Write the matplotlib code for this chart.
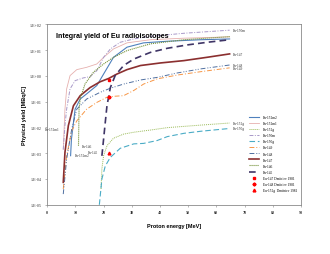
import numpy as np
import matplotlib
matplotlib.use('Agg')
from matplotlib import pyplot as plt

# proton energy [MeV] and yield [MBq/C]
e_152m2 = [8.3, 8.6, 9.9, 11.7, 14.0, 17.6, 20.0, 23.5, 28.3, 34.2, 42.6, 54.5, 64.7]
y_152m2 = [8e-4, 3.5e-3, 5.1e-2, 0.126, 0.2, 0.42, 1.17, 5.2, 12.9, 19.0, 21.9, 25.1, 26.9]

e_152m1 = [5.7, 6.3, 6.9, 8.1, 10.5, 14.0, 17.6, 20.0, 23.5, 28.3, 36.6, 48.5, 64.7]
y_152m1 = [1.4e-3, 5.1e-2, 0.31, 1.02, 1.74, 2.14, 2.88, 5.2, 11.0, 19.0, 25.1, 28.8, 32.4]

e_152g = [19.1, 19.4, 20.0, 21.2, 23.5, 27.1, 30.7, 36.6, 42.6, 54.5, 64.7]
y_152g = [4.1e-5, 2.5e-4, 7.9e-4, 1.95e-3, 3.8e-3, 5.5e-3, 6.5e-3, 7.9e-3, 9.8e-3, 1.23e-2, 1.48e-2]

e_150m = [5.7, 6.3, 6.9, 8.1, 9.9, 12.8, 15.2, 17.6, 20.0, 22.4, 25.9, 30.7, 36.6, 48.5, 64.7]
y_150m = [1.4e-3, 1.2e-2, 5.1e-2, 0.31, 0.65, 0.83, 0.93, 1.58, 5.2, 11.0, 20.0, 26.9, 33.9, 44.7, 58.9]

e_150g = [18.5, 19.4, 20.6, 22.4, 25.9, 30.7, 34.2, 39.0, 42.6, 48.5, 54.5, 64.7]
y_150g = [1e-5, 1e-4, 3.2e-4, 6.9e-4, 1.55e-3, 2.3e-3, 2.4e-3, 3.1e-3, 4.4e-3, 5.9e-3, 7.1e-3, 9.1e-3]

e_149 = [5.7, 6.9, 8.7, 10.5, 14.0, 17.6, 21.2, 24.1, 27.1, 30.7, 34.2, 39.0, 46.1, 54.5, 64.7]
y_149 = [4.1e-5, 7.9e-4, 7.4e-3, 1.8e-2, 5.1e-2, 9.3e-2, 0.148, 0.162, 0.17, 0.27, 0.48, 0.76, 1.07, 1.45, 2.04]

e_148 = [5.7, 6.9, 8.7, 10.5, 14.0, 18.8, 22.4, 27.1, 33.1, 39.0, 46.1, 54.5, 64.7]
y_148 = [2.6e-5, 5.9e-4, 8.7e-3, 5.1e-2, 0.126, 0.23, 0.33, 0.48, 0.69, 0.87, 1.29, 1.86, 2.63]

e_147 = [5.7, 6.3, 7.5, 9.3, 11.7, 15.2, 18.8, 21.8, 24.7, 28.3, 33.1, 40.2, 48.5, 56.8, 64.7]
y_147 = [7.4e-5, 1.07e-3, 1.17e-2, 6.9e-2, 0.17, 0.35, 0.59, 0.79, 1.17, 1.74, 2.51, 3.16, 3.89, 5.25, 7.08]

e_146 = [11.1, 11.3, 11.7, 13.4, 16.4, 20.0, 23.5, 28.3, 36.6, 48.5, 64.7]
y_146 = [1.95e-3, 5.1e-2, 0.126, 0.48, 1.38, 2.88, 5.2, 9.5, 17.4, 25.1, 33.1]

e_145 = [19.4, 20.0, 20.6, 21.2, 22.4, 24.1, 27.1, 30.7, 36.6, 42.6, 49.7, 56.8, 64.7]
y_145 = [7.9e-4, 3.5e-3, 1.58e-2, 6.9e-2, 0.35, 1.02, 2.51, 4.47, 8.1, 11.7, 15.8, 20.0, 25.1]

# literature points (Dmitriev 1981)
e_exp = [21.9, 21.9, 21.9]
y_exp = [0.69, 0.155, 1.0e-3]

x_ticks = [0, 10, 20, 30, 40, 50, 60, 70, 80, 90]
y_ticks = [1e-5, 1e-4, 1e-3, 1e-2, 1e-1, 1e0, 1e1, 1e2]
y_tick_labels = ['1.E-05', '1.E-04', '1.E-03', '1.E-02', '1.E-01', '1.E+00', '1.E+01', '1.E+02']

serif = ['Liberation Serif', 'DejaVu Serif']
sans = ['Liberation Sans Narrow', 'Liberation Sans', 'DejaVu Sans']

fig = plt.figure(figsize=(3.3, 2.55), dpi=100)
ax = fig.add_axes([0.143, 0.193, 0.769, 0.708])

series = [
    (e_152m2, y_152m2, 'Eu-152m2', '#4F81BD', '-', 0.8),
    (e_152m1, y_152m1, 'Eu-152m1', '#E6B0AE', '-', 0.6),
    (e_152g, y_152g, 'Eu-152g', '#9BBB59', (0, (1, 1)), 0.7),
    (e_150m, y_150m, 'Eu-150m', '#A898C8', (0, (4, 1.5, 1, 1.5)), 0.7),
    (e_150g, y_150g, 'Eu-150g', '#4BACC6', (0, (5, 2.5)), 0.8),
    (e_149, y_149, 'Eu-149', '#F79646', (0, (5, 2, 1, 2)), 0.7),
    (e_148, y_148, 'Eu-148', '#4F6FA0', (0, (5, 2, 1, 1.5, 1, 2)), 0.7),
    (e_147, y_147, 'Eu-147', '#8B2F2F', '-', 1.2),
    (e_146, y_146, 'Eu-146', '#77933C', (0, (1, 0.8)), 0.8),
    (e_145, y_145, 'Eu-145', '#3F3566', (0, (4, 2.5)), 1.2),
]

for e, y, name, color, ls, lw in series:
    ax.plot(e, y, color=color, linestyle=ls, linewidth=lw, label=name)

ax.plot(e_exp[0], y_exp[0], 's', color='red', markersize=2.0, linestyle='none', label='Eu-147 Dmitriev 1981')
ax.plot(e_exp[1], y_exp[1], 'P', color='red', markersize=2.0, linestyle='none', label='Eu-148 Dmitriev 1981')
ax.plot(e_exp[2], y_exp[2], '^', color='red', markersize=2.0, linestyle='none', label='Eu-152g  Dmitriev 1981')

ax.set_yscale('log')
ax.set_xlim(0, 90)
ax.set_ylim(1e-5, 1e2)
ax.set_xticks(x_ticks)
ax.set_xticklabels([str(t) for t in x_ticks], family=serif, fontsize=3, fontweight='bold')
ax.set_yticks(y_ticks)
ax.set_yticklabels(y_tick_labels, family=serif, fontsize=3)
ax.minorticks_off()
ax.tick_params(direction='out', length=1.5, width=0.4, colors='#808080', labelcolor='#333333')
ax.tick_params(axis='y', pad=2.5)
ax.tick_params(axis='x', pad=2)
for s in ax.spines.values():
    s.set_color('#8a8a8a')
    s.set_linewidth(0.6)

ax.set_xlabel('Proton energy [MeV]', family=sans, fontsize=4, fontweight='bold', labelpad=7)
ax.set_ylabel('Physical yield [MBq/C]', family=sans, fontsize=4, fontweight='bold', labelpad=2)

ax.text(3.1, 38, 'Integral yield of Eu radioisotopes', family=sans, fontsize=5.1,
        fontweight='bold', va='center', ha='left')

# curve labels
lab = dict(family=serif, fontsize=2.5, color='#333333', va='center', ha='left')
ax.text(66.0, 59, 'Eu-150m', **lab)
ax.text(66.0, 7.1, 'Eu-147', **lab)
ax.text(66.0, 2.7, 'Eu-148', **lab)
ax.text(66.0, 2.1, 'Eu-149', **lab)
ax.text(66.0, 1.5e-2, 'Eu-152g', **lab)
ax.text(66.0, 9.2e-3, 'Eu-150g', **lab)
ax.text(-0.7, 9e-3, 'Eu-152m1', **lab)
ax.text(12.3, 1.9e-3, 'Eu-146', **lab)
ax.text(10.0, 8.5e-4, 'Eu-152m2', **lab)
ax.text(14.5, 1.15e-3, 'Eu-145', **lab)

leg = ax.legend(loc='upper left', bbox_to_anchor=(0.79, 0.505), frameon=False,
                prop={'family': serif, 'size': 2.5}, labelspacing=0.6,
                handlelength=3.0, handletextpad=0.9, borderaxespad=0)

plt.savefig('out.png', dpi=100)
